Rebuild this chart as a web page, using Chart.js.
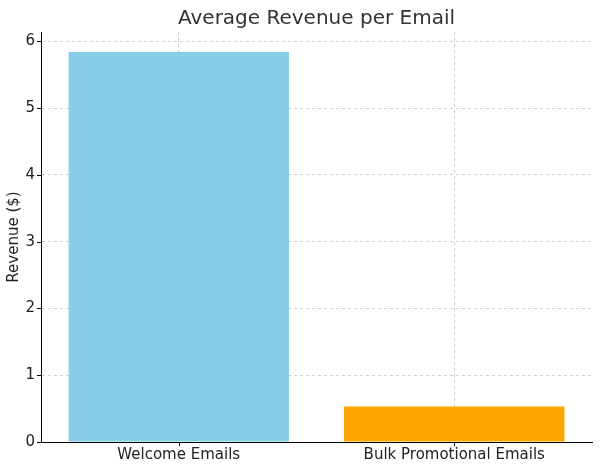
<!DOCTYPE html>
<html>
<head>
<meta charset="utf-8">
<script src="https://cdn.jsdelivr.net/npm/chart.js@4.4.0/dist/chart.umd.min.js"></script>
<style>
  html, body { margin: 0; padding: 0; background: #fff; }
  #wrap { width: 600px; height: 469px; }
</style>
</head>
<body>
<div id="wrap"><canvas id="chart" width="600" height="469"></canvas></div>
<script>
const categories = ["Welcome Emails", "Bulk Promotional Emails"];
const revenue = [5.84, 0.53];
const barColors = ["#87CEEB", "#FFA500"];
const yTicks = [0, 1, 2, 3, 4, 5, 6];

// small black tick marks outside the axes, like matplotlib
const tickMarks = {
    id: "tickMarks",
    afterDraw(chart) {
        const ctx = chart.ctx;
        const x = chart.scales.x, y = chart.scales.y;
        const area = chart.chartArea;
        ctx.save();
        ctx.strokeStyle = "#000";
        ctx.lineWidth = 1;
        ctx.beginPath();
        yTicks.forEach((v) => {
            const py = Math.round(y.getPixelForValue(v)) + 0.5;
            ctx.moveTo(area.left - 4, py);
            ctx.lineTo(area.left, py);
        });
        categories.forEach((c, i) => {
            const px = Math.round(x.getPixelForValue(i)) + 0.5;
            ctx.moveTo(px, area.bottom);
            ctx.lineTo(px, area.bottom + 4);
        });
        ctx.stroke();
        ctx.restore();
    }
};

new Chart(document.getElementById("chart"), {
    type: "bar",
    data: {
        labels: categories,
        datasets: [{
            data: revenue,
            backgroundColor: barColors,
            borderWidth: 0,
            barPercentage: 0.8,
            categoryPercentage: 1.0
        }]
    },
    options: {
        responsive: false,
        animation: false,
        layout: { padding: { left: 0, right: 8, top: 0, bottom: 0 } },
        plugins: {
            legend: { display: false },
            tooltip: { enabled: false },
            title: {
                display: true,
                fullSize: false,
                text: "Average Revenue per Email",
                color: "#333",
                font: { family: "DejaVu Sans", size: 20, weight: "normal" },
                padding: { top: 7, bottom: 1 }
            }
        },
        scales: {
            x: {
                offset: true,
                grid: { offset: false, color: "#cfcfcf", drawTicks: false },
                border: { display: true, color: "#000", width: 1, dash: [3, 3] },
                ticks: {
                    color: "#222",
                    padding: 4,
                    font: { family: "DejaVu Sans", size: 15 }
                },
                afterFit(scale) { scale.height = 27; }
            },
            y: {
                min: 0,
                max: 6.14,
                grid: { color: "#cfcfcf", drawTicks: false },
                border: { display: true, color: "#000", width: 1, dash: [3, 3] },
                ticks: {
                    stepSize: 1,
                    includeBounds: false,
                    color: "#222",
                    padding: 6,
                    font: { family: "DejaVu Sans", size: 15 }
                },
                title: {
                    display: true,
                    text: "Revenue ($)",
                    color: "#222",
                    padding: { top: 5, bottom: 0 },
                    font: { family: "DejaVu Sans", size: 15 }
                },
                afterFit(scale) { scale.width = 41; }
            }
        }
    },
    plugins: [tickMarks]
});
</script>
</body>
</html>
